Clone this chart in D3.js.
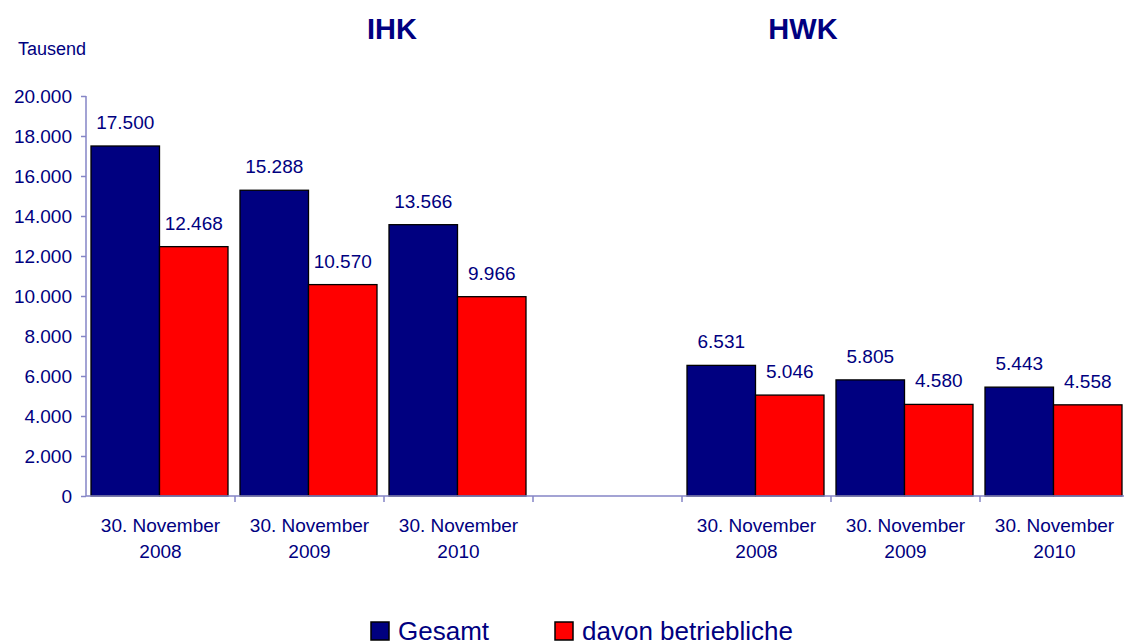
<!DOCTYPE html>
<html>
<head>
<meta charset="utf-8">
<script src="https://d3js.org/d3.v7.min.js"></script>
<style>
  body { margin: 0; background: #fff; }
  text { font-family: Arial, "Liberation Sans", sans-serif; fill: #000080; }
</style>
</head>
<body>
<svg id="chart" width="1124" height="643"></svg>
<script>
// slots on the x axis, the empty one separates IHK and HWK
var slots = ["IHK 2008", "IHK 2009", "IHK 2010", "gap", "HWK 2008", "HWK 2009", "HWK 2010"];
var slotLabels = [["30. November", "2008"], ["30. November", "2009"], ["30. November", "2010"], [],
                  ["30. November", "2008"], ["30. November", "2009"], ["30. November", "2010"]];
var seriesNames = ["Gesamt", "davon betriebliche"];
var gesamt = [17500, 15288, 13566, null, 6531, 5805, 5443];
var betrieblich = [12468, 10570, 9966, null, 5046, 4580, 4558];
var yTicks = [0, 2000, 4000, 6000, 8000, 10000, 12000, 14000, 16000, 18000, 20000];
var groupTitles = ["IHK", "HWK"];

var colors = ["#000080", "#ff0000"];
var axisColor = "#8585c6";

var de = d3.formatLocale({decimal: ",", thousands: ".", grouping: [3], currency: ["", " €"]});
var fmt = de.format(",d");

var svg = d3.select("#chart");

var plot = {left: 86, right: 1129, top: 96, bottom: 496};

var x = d3.scaleBand().domain(slots).range([plot.left, plot.right]).padding(0);
var xInner = d3.scaleBand().domain(seriesNames)
  .range([5, x.bandwidth() - 7]).padding(0);
var y = d3.scaleLinear().domain([0, 20000]).range([plot.bottom, plot.top]);

// bars
var rows = [];
slots.forEach(function(s, i) {
  if (gesamt[i] != null) rows.push({slot: s, series: seriesNames[0], value: gesamt[i]});
  if (betrieblich[i] != null) rows.push({slot: s, series: seriesNames[1], value: betrieblich[i]});
});

svg.selectAll("rect.bar")
  .data(rows)
  .enter()
  .append("rect")
    .attr("class", "bar")
    .attr("x", function(d) { return x(d.slot) + xInner(d.series); })
    .attr("y", function(d) { return y(d.value); })
    .attr("width", xInner.bandwidth())
    .attr("height", function(d) { return plot.bottom - y(d.value); })
    .style("fill", function(d) { return colors[seriesNames.indexOf(d.series)]; })
    .style("stroke", "#000")
    .style("stroke-width", 1.3);

// value labels
svg.selectAll("text.val")
  .data(rows)
  .enter()
  .append("text")
    .attr("class", "val")
    .attr("x", function(d) { return x(d.slot) + xInner(d.series) + xInner.bandwidth() / 2; })
    .attr("y", function(d) { return y(d.value) - 17; })
    .attr("text-anchor", "middle")
    .style("font-size", "19px")
    .text(function(d) { return fmt(d.value); });

// y axis
var yAxis = svg.append("g")
  .attr("transform", "translate(" + plot.left + ",0)")
  .call(d3.axisLeft(y).tickValues(yTicks).tickSize(5).tickPadding(9).tickFormat(fmt));
yAxis.select(".domain").attr("stroke", axisColor).attr("stroke-width", 1.5)
  .attr("d", "M0," + plot.top + "V" + plot.bottom);
yAxis.selectAll(".tick line").attr("stroke", axisColor).attr("stroke-width", 1.5);
yAxis.selectAll(".tick text").style("font-size", "19px")
  .style("font-family", "Arial, 'Liberation Sans', sans-serif").attr("fill", "#000080");

// x axis with ticks on slot boundaries
var xAxis = svg.append("g").attr("transform", "translate(0," + plot.bottom + ")");
xAxis.append("line")
  .attr("x1", plot.left).attr("x2", plot.right)
  .attr("stroke", axisColor).attr("stroke-width", 1.5);
xAxis.selectAll("line.tk")
  .data(slots)
  .enter()
  .append("line")
    .attr("class", "tk")
    .attr("x1", function(d) { return x(d) + x.bandwidth(); })
    .attr("x2", function(d) { return x(d) + x.bandwidth(); })
    .attr("y1", 0).attr("y2", 6)
    .attr("stroke", axisColor).attr("stroke-width", 1.5);

var cat = svg.selectAll("text.cat")
  .data(slots)
  .enter()
  .append("text")
    .attr("class", "cat")
    .attr("text-anchor", "middle")
    .style("font-size", "19px");
cat.each(function(d, i) {
  var t = d3.select(this);
  slotLabels[i].forEach(function(line, j) {
    t.append("tspan")
      .attr("x", x(d) + x.bandwidth() / 2)
      .attr("y", 532 + j * 26)
      .text(line);
  });
});

// titles and unit
svg.append("text").attr("x", 392).attr("y", 39).attr("text-anchor", "middle")
  .style("font-size", "29px").style("font-weight", "bold").text(groupTitles[0]);
svg.append("text").attr("x", 803).attr("y", 39).attr("text-anchor", "middle")
  .style("font-size", "29px").style("font-weight", "bold").text(groupTitles[1]);
svg.append("text").attr("x", 18).attr("y", 55).style("font-size", "18px").text("Tausend");

// legend
var legX = [371, 555];
var leg = svg.selectAll("g.leg")
  .data(seriesNames)
  .enter()
  .append("g")
    .attr("class", "leg")
    .attr("transform", function(d, i) { return "translate(" + legX[i] + ",622)"; });
leg.append("rect")
  .attr("width", 18).attr("height", 18)
  .style("fill", function(d, i) { return colors[i]; })
  .style("stroke", "#000").style("stroke-width", 1.5);
leg.append("text")
  .attr("x", 27).attr("y", 18)
  .style("font-size", "26px")
  .text(function(d) { return d; });
</script>
</body>
</html>
